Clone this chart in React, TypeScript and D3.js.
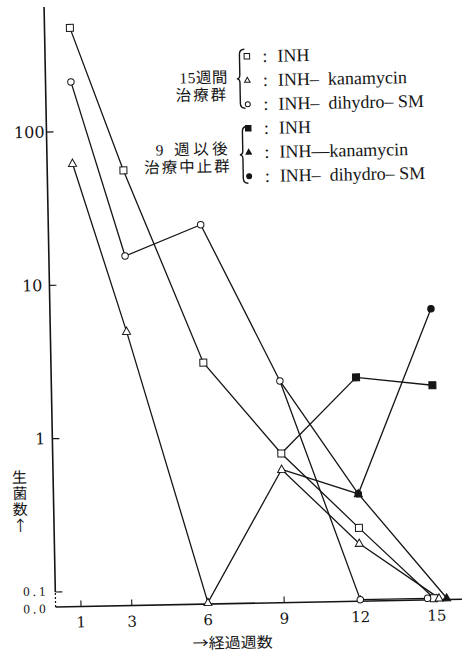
import { useEffect, useRef } from 'react';
import * as d3 from 'd3';

const WIDTH = 469;
const HEIGHT = 659;
const INK = '#151515';
// the scanned figure sits about one degree off square
const TILT = -1.1;

// axis ticks
const X_TICKS = [1, 3, 6, 9, 12, 15];
const Y_TICKS = [100, 10, 1, 0.1];
const Y_TICK_LABELS = ['100', '10', '1', '0.1'];
const ZERO_LABEL = '0.0';

// 15週間治療群 (value 0 = "0.0", drawn on the baseline)
const INH_15_WEEKS = [1, 3, 6, 9, 12, 14.9];
const INH_15_VALUES = [475, 55, 3.0, 0.75, 0.24, 0];
const KANA_15_WEEKS = [1, 3, 6, 9, 12, 15.1];
const KANA_15_VALUES = [62, 4.9, 0, 0.59, 0.19, 0];
const DSM_15_WEEKS = [1, 3, 6, 9, 12, 14.65];
const DSM_15_VALUES = [211, 15.2, 23.8, 2.23, 0, 0];

// 9週以後治療中止群 (lines start from the week-9 value of the same drug)
const INH_STOP_WEEKS = [9, 12, 15];
const INH_STOP_VALUES = [0.75, 2.3, 2.0];
const KANA_STOP_WEEKS = [9, 12, 15.4];
const KANA_STOP_VALUES = [0.59, 0.4, 0];
const DSM_STOP_WEEKS = [9, 12, 15];
const DSM_STOP_VALUES = [2.23, 0.4, 6.3];

const LEGEND_LABELS = [
  'INH',
  'INH–\u2002kanamycin',
  'INH–\u2002dihydro– SM',
  'INH',
  'INH—kanamycin',
  'INH–\u2002dihydro– SM',
];
const GROUP_LABELS = [
  ['15週間', '治療群'],
  ['9 週以後', '治療中止群'],
];
const X_TITLE = '→経過週数';
const Y_TITLE = '生菌数↑';

type Shape = 'square' | 'triangle' | 'circle';

const SERIES: { weeks: number[]; values: number[]; shape: Shape; filled: boolean }[] = [
  { weeks: INH_15_WEEKS, values: INH_15_VALUES, shape: 'square', filled: false },
  { weeks: KANA_15_WEEKS, values: KANA_15_VALUES, shape: 'triangle', filled: false },
  { weeks: DSM_15_WEEKS, values: DSM_15_VALUES, shape: 'circle', filled: false },
  { weeks: INH_STOP_WEEKS, values: INH_STOP_VALUES, shape: 'square', filled: true },
  { weeks: KANA_STOP_WEEKS, values: KANA_STOP_VALUES, shape: 'triangle', filled: true },
  { weeks: DSM_STOP_WEEKS, values: DSM_STOP_VALUES, shape: 'circle', filled: true },
];

function drawMarker(g: any, shape: Shape, filled: boolean, cx: number, cy: number, s: number) {
  const fill = filled ? INK : '#fff';
  if (shape === 'square') {
    g.append('rect')
      .attr('x', cx - s / 2)
      .attr('y', cy - s / 2)
      .attr('width', s)
      .attr('height', s)
      .attr('fill', fill)
      .attr('stroke', INK)
      .attr('stroke-width', 1);
  } else if (shape === 'circle') {
    g.append('circle')
      .attr('cx', cx)
      .attr('cy', cy)
      .attr('r', s / 2)
      .attr('fill', fill)
      .attr('stroke', INK)
      .attr('stroke-width', 1);
  } else {
    const h = s * 0.9;
    g.append('path')
      .attr('d', `M${cx},${cy - h * 0.6}L${cx + s / 2},${cy + h * 0.4}L${cx - s / 2},${cy + h * 0.4}Z`)
      .attr('fill', fill)
      .attr('stroke', INK)
      .attr('stroke-width', 1);
  }
}

export default function App() {
  const svgRef = useRef<SVGSVGElement | null>(null);

  useEffect(() => {
    if (!svgRef.current) return;
    const svg = d3.select(svgRef.current);
    svg.selectAll('*').remove();

    const x = d3.scaleLinear().domain([0, 16]).range([55.6, 462]);
    const y = d3.scaleLog().domain([0.1, 100]).range([592, 132]);
    const x0 = x(0);
    const baseY = 607;
    const zeroY = baseY - 1.5;
    const yPos = (v: number) => (v <= 0 ? zeroY : y(v));

    const root = svg.append('g').attr('transform', `rotate(${TILT}, ${x0}, ${baseY})`);

    // Axes
    root.append('line')
      .attr('x1', x0).attr('x2', x0)
      .attr('y1', y(0.1)).attr('y2', y(655))
      .attr('stroke', INK).attr('stroke-width', 1.6);
    root.append('line')
      .attr('x1', x0).attr('x2', x0)
      .attr('y1', baseY).attr('y2', y(0.1))
      .attr('stroke', INK).attr('stroke-width', 1.2)
      .attr('stroke-dasharray', '2,2');
    root.append('line')
      .attr('x1', x0).attr('x2', x(16))
      .attr('y1', baseY).attr('y2', baseY)
      .attr('stroke', INK).attr('stroke-width', 1.6);

    Y_TICKS.forEach((t, i) => {
      root.append('line')
        .attr('x1', x0).attr('x2', x0 + 7)
        .attr('y1', y(t)).attr('y2', y(t))
        .attr('stroke', INK).attr('stroke-width', 1.2);
      const small = t < 1;
      root.append('text')
        .attr('x', x0 - (i === 0 ? 2 : 7))
        .attr('y', y(t) - (small ? 1 : 0))
        .attr('text-anchor', 'end')
        .attr('dominant-baseline', 'central')
        .attr('font-family', small ? 'Liberation Serif, serif' : 'DejaVu Serif, serif')
        .attr('font-size', small ? 13 : 16)
        .attr('letter-spacing', small ? 3 : 0)
        .attr('fill', INK)
        .text(Y_TICK_LABELS[i]);
    });
    root.append('text')
      .attr('x', x0 - 7)
      .attr('y', baseY + 1.5)
      .attr('text-anchor', 'end')
      .attr('dominant-baseline', 'central')
      .attr('font-family', 'Liberation Serif, serif')
      .attr('font-size', 13)
      .attr('letter-spacing', 3)
      .attr('fill', INK)
      .text(ZERO_LABEL);

    X_TICKS.forEach((t) => {
      root.append('line')
        .attr('x1', x(t)).attr('x2', x(t))
        .attr('y1', baseY).attr('y2', baseY - 6)
        .attr('stroke', INK).attr('stroke-width', 1.1);
      root.append('text')
        .attr('x', x(t))
        .attr('y', 623)
        .attr('text-anchor', 'middle')
        .attr('dominant-baseline', 'central')
        .attr('font-family', 'DejaVu Serif, serif')
        .attr('font-size', 15)
        .attr('fill', INK)
        .text(t);
    });

    // Axis titles
    root.append('text')
      .attr('x', 192)
      .attr('y', 645)
      .attr('dominant-baseline', 'central')
      .attr('font-family', 'Noto Sans CJK JP, sans-serif')
      .attr('font-size', 15)
      .attr('textLength', 80)
      .attr('lengthAdjust', 'spacingAndGlyphs')
      .attr('fill', INK)
      .text(X_TITLE);
    root.append('text')
      .attr('x', 22)
      .attr('y', 469)
      .style('writing-mode', 'vertical-rl')
      .style('text-orientation', 'upright')
      .attr('font-family', 'Noto Sans CJK JP, sans-serif')
      .attr('font-size', 15)
      .attr('letter-spacing', 1)
      .attr('fill', INK)
      .text(Y_TITLE);

    // Lines
    const line = d3.line<[number, number]>()
      .x((d) => x(d[0]))
      .y((d) => yPos(d[1]));

    SERIES.forEach((s) => {
      const pts = s.weeks.map((w, i) => [w, s.values[i]] as [number, number]);
      root.append('path')
        .datum(pts)
        .attr('d', line)
        .attr('fill', 'none')
        .attr('stroke', INK)
        .attr('stroke-width', 1.3);
    });

    // Markers (stopped groups share their week-9 point with the 15-week groups)
    SERIES.forEach((s) => {
      s.weeks.forEach((w, i) => {
        if (s.filled && i === 0) return;
        const size = s.shape === 'circle' ? 6.5 : s.shape === 'triangle' ? 8 : 7;
        drawMarker(root, s.shape, s.filled, x(w), yPos(s.values[i]), size);
      });
    });

    // Legend
    const legend = root.append('g');
    const rowY = (i: number) => 60 + i * 24;
    SERIES.forEach((s, i) => {
      const size = s.shape === 'circle' ? 5 : 5.5;
      drawMarker(legend, s.shape, s.filled, 257.4, rowY(i), size);
      legend.append('text')
        .attr('x', 273)
        .attr('y', rowY(i))
        .attr('dominant-baseline', 'central')
        .attr('font-family', 'Liberation Serif, serif')
        .attr('font-size', 18)
        .attr('fill', INK)
        .text(':');
      legend.append('text')
        .attr('x', 288)
        .attr('y', rowY(i))
        .attr('dominant-baseline', 'central')
        .attr('font-family', 'Liberation Serif, serif')
        .attr('font-size', 18)
        .attr('fill', INK)
        .text(LEGEND_LABELS[i]);
    });

    const brace = (bx: number, t: number, b: number) => {
      const m = (t + b) / 2;
      return `M${bx + 5},${t}Q${bx},${t} ${bx},${t + 5}L${bx},${m - 4}Q${bx},${m} ${bx - 3},${m}` +
        `Q${bx},${m} ${bx},${m + 4}L${bx},${b - 5}Q${bx},${b} ${bx + 5},${b}`;
    };
    [[250, 53, 112], [251.5, 130, 187]].forEach(([bx, t, b]) => {
      legend.append('path')
        .attr('d', brace(bx, t, b))
        .attr('fill', 'none')
        .attr('stroke', INK)
        .attr('stroke-width', 1.4);
    });

    // group captions, two lines each, right-aligned against the braces
    const groupText = [
      { x: 238, ys: [80.5, 98], spacing: [0.5, 2] },
      { x: 240, ys: [152, 169.5], spacing: [3.5, 2] },
    ];
    GROUP_LABELS.forEach((lines, gi) => {
      lines.forEach((txt, li) => {
        legend.append('text')
          .attr('x', groupText[gi].x)
          .attr('y', groupText[gi].ys[li])
          .attr('text-anchor', 'end')
          .attr('dominant-baseline', 'central')
          .attr('font-family', 'Liberation Serif, Noto Sans CJK JP, serif')
          .attr('font-size', 15.5)
          .attr('letter-spacing', groupText[gi].spacing[li])
          .attr('fill', INK)
          .text(txt);
      });
    });
  }, []);

  return (
    <>
      <style>{'body{margin:0;background:#fff}'}</style>
      <svg ref={svgRef} width={WIDTH} height={HEIGHT} style={{ display: 'block', background: '#fff' }} />
    </>
  );
}
